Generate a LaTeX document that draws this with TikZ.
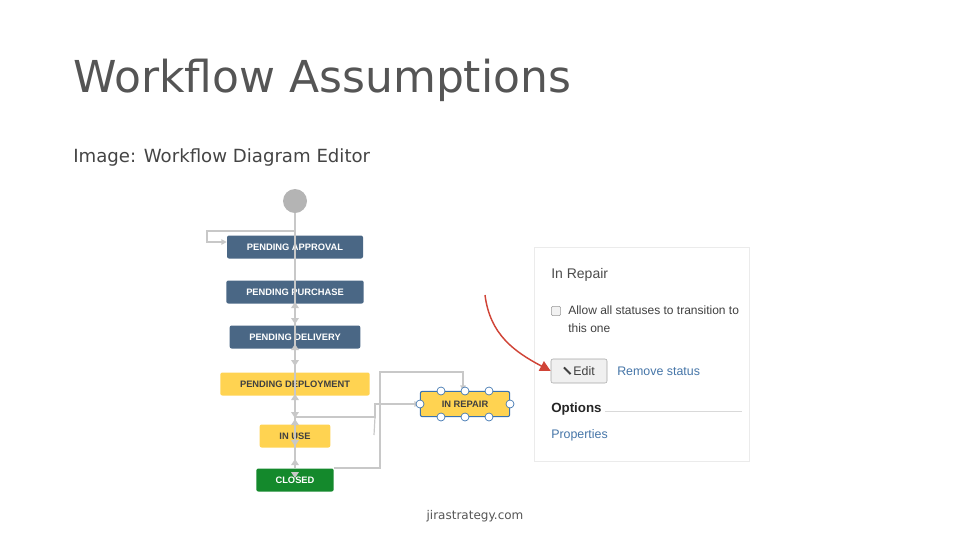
\documentclass[tikz,border=0pt]{standalone}
\usepackage{fontspec}
\setmainfont{DejaVu Sans}
\newfontfamily\arial{Liberation Sans}
\usetikzlibrary{arrows.meta,shadows}
\definecolor{navy}{HTML}{4A6785}
\definecolor{yel}{HTML}{FFD351}
\definecolor{grn}{HTML}{14892C}
\definecolor{conn}{HTML}{C8C8C8}
\definecolor{lnk}{HTML}{3B73AF}
\definecolor{ttl}{HTML}{555555}
\definecolor{arr}{HTML}{D04437}
\tikzset{
 st/.style={rounded corners=1.5pt,minimum height=17.25pt,inner sep=0pt,font=\arial\bfseries\fontsize{7}{8}\selectfont},
 blue/.style={st,fill=navy,text=white},
 yl/.style={st,fill=yel,text=black!75},
 cn/.style={draw=conn,line width=0.9pt},
 ca/.style={cn,-{Triangle[length=4pt,width=4pt]}},
 hnd/.style={circle,draw=lnk,fill=white,inner sep=0pt,minimum size=6pt,line width=0.5pt},
}
\begin{document}
\begin{tikzpicture}[x=0.75pt,y=-0.75pt]
\useasboundingbox (0,0) rectangle (960,540);
\node[anchor=west,text=ttl,font=\fontsize{33}{38}\selectfont,inner sep=0] (title) at (73,80) {Workflow Assumptions};
\node[anchor=west,text=ttl!80!black,font=\fontsize{13.6}{15}\selectfont,inner sep=0] (sub) at (73,157) {Image: Workflow Diagram Editor};
\node[text=ttl,font=\fontsize{9}{10}\selectfont,inner sep=0] (foot) at (475,516) {jirastrategy.com};

\node[circle,fill=conn!90!black,minimum size=18pt,inner sep=0] (start) at (295,201) {};
\node[blue,minimum width=102pt] (pa) at (295,247) {PENDING APPROVAL};
\node[blue,minimum width=103pt] (pp) at (295,292) {PENDING PURCHASE};
\node[blue,minimum width=98pt] (pd) at (295,337) {PENDING DELIVERY};
\node[yl,minimum width=112pt] (pdep) at (295,384) {PENDING DEPLOYMENT};
\node[yl,minimum width=53pt] (use) at (295,436) {IN USE};
\node[st,fill=grn,text=white,minimum width=58pt] (cl) at (295,480) {CLOSED};
\node[yl,draw=lnk,line width=0.8pt,minimum width=67pt,minimum height=19pt] (rep) at (465,404) {IN REPAIR};

% connectors
\draw[cn] (start.south) -- (cl.north);
\draw[ca] (295,231) -- (207,231) -- (207,242) -- (pa.west|-0,242);
\foreach \y in {308,350,400,425,465}{
 \fill[conn] (295,\y-6) -- (291,\y) -- (299,\y) -- cycle;}
\foreach \y in {318,360,412,440,472}{
 \fill[conn] (295,\y+6) -- (291,\y) -- (299,\y) -- cycle;}
\coordinate (c1) at (295,417);
\draw[ca] (c1) -- (375,417) -- (375,404) -- (rep.west);
\draw[cn] (374,435) -- (375,417);
\draw[ca] (cl.east|-0,468) -- (380,468) -- (380,372) -- (463,372) -- (rep.north-|463,0);
\foreach \p in {(441,391),(465,391),(489,391),(441,417),(465,417),(489,417),(420,404),(510,404)}
 \node[hnd] at \p {};

% panel
\node[draw=black!8,fill=white,drop shadow={opacity=0.12,shadow xshift=0.8pt,shadow yshift=-0.8pt},minimum width=161pt,minimum height=160.5pt,inner sep=0] (panel) at (641.5,354) {};
\begin{scope}[font=\arial\fontsize{9.3}{11}\selectfont]
\node[anchor=west,text=black!70,font=\arial\fontsize{10.5}{12}\selectfont,inner sep=0] (nm) at (551,275) {In Repair};
\node[draw=black!40,fill=black!5,rounded corners=1pt,minimum size=7pt,inner sep=0] (cb) at (556,311) {};
\node[anchor=north west,text=black!75,align=left,inner sep=0,font=\arial\fontsize{9}{12.8}\selectfont] (allow) at (568,306) {Allow all statuses to transition to\\this one};
\node[draw=black!35,fill=black!6,rounded corners=1.5pt,minimum width=42pt,minimum height=18pt,inner sep=0,text=black!75] (edit) at (579,371) {\raisebox{0.5pt}{\rotatebox{45}{\rule{1.5pt}{7pt}}}\,Edit};
\node[anchor=west,text=lnk!85!gray,inner sep=0] (rm) at (617,371) {Remove status};
\node[anchor=west,text=black!85,font=\arial\bfseries\fontsize{10}{12}\selectfont,inner sep=0] (opt) at (551,409) {Options};
\draw[black!15,line width=0.6pt] (opt.east)++(3,2) -- (742,411);
\node[anchor=west,text=lnk!85!gray,inner sep=0] (prop) at (551,435) {Properties};
\end{scope}
\draw[draw=arr,line width=1.1pt,-{Triangle[length=8pt,width=8pt]}] (485,295) .. controls (490,335) and (515,352) .. (edit.west);
\end{tikzpicture}
\end{document}
